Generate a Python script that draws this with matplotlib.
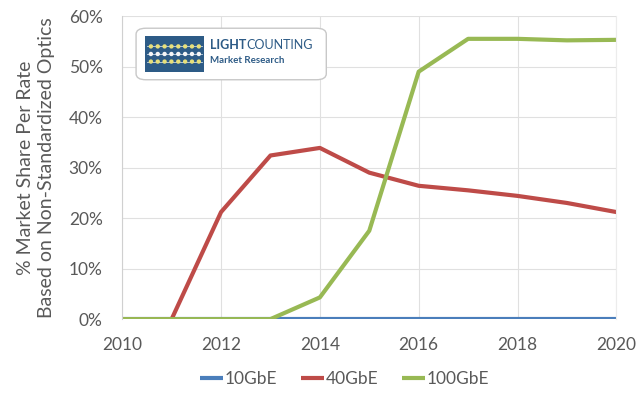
import numpy as np
import matplotlib
matplotlib.use("Agg")
import matplotlib.pyplot as plt
from matplotlib.patches import FancyBboxPatch, Rectangle

plt.rcParams['font.family'] = ['Lato', 'DejaVu Sans']

years = [2010, 2011, 2012, 2013, 2014, 2015, 2016, 2017, 2018, 2019, 2020]
ge10 = [0, 0, 0, 0, 0, 0, 0, 0, 0, 0, 0]
ge40 = [0, 0, 21.2, 32.4, 33.9, 29.0, 26.4, 25.5, 24.4, 23.0, 21.2]
ge100 = [0, 0, 0, 0, 4.3, 17.5, 49.0, 55.5, 55.5, 55.2, 55.3]

series = [("10GbE", ge10, "#4a7ebb"),
          ("40GbE", ge40, "#be4b48"),
          ("100GbE", ge100, "#98b954")]

fig = plt.figure(figsize=(6.4, 3.93), dpi=100)
ax = fig.add_axes([0.191, 0.188, 0.772, 0.771])

for name, vals, col in series:
    ax.plot(years, vals, color=col, linewidth=3.0, label=name, solid_capstyle='butt')

ax.set_xlim(2010, 2020)
ax.set_ylim(0, 60)
ax.set_xticks(range(2010, 2021, 2))
ax.set_yticks(range(0, 61, 10))
ax.set_yticklabels(['%d%%' % v for v in range(0, 61, 10)])
ax.grid(True, color='#e0e0e0', linewidth=0.8)
ax.set_axisbelow(True)
for s in ['top', 'bottom']:
    ax.spines[s].set_visible(False)
ax.spines['left'].set_color('#d0d0d0')
ax.spines['right'].set_color('#ececec')
ax.tick_params(length=0, labelsize=12.5, colors='#595959')
ax.tick_params(axis='y', pad=14)
ax.tick_params(axis='x', pad=13)

ax.set_ylabel('% Market Share Per Rate\nBased on Non-Standardized Optics',
              fontsize=14, color='#595959', labelpad=10, linespacing=1.3)

leg = ax.legend(loc='upper center', bbox_to_anchor=(0.45, -0.12), ncol=3,
                frameon=False, fontsize=12.5, handlelength=1.3, handletextpad=0.1,
                columnspacing=1.4, labelcolor='#595959')

# logo box
box = FancyBboxPatch((0.028, 0.79), 0.385, 0.17, transform=ax.transAxes,
                     boxstyle='round,pad=0,rounding_size=0.02', facecolor='white',
                     edgecolor='#c8c8c8', linewidth=1.0, zorder=5)
ax.add_patch(box)
icon = Rectangle((0.047, 0.815), 0.118, 0.12, transform=ax.transAxes,
                 facecolor='#2d5b86', edgecolor='none', zorder=6)
ax.add_patch(icon)
for r, yy in enumerate([0.90, 0.875, 0.85]):
    ax.plot([0.05, 0.162], [yy, yy], transform=ax.transAxes, color='#c9d8e6',
            linewidth=0.6, zorder=7)
    xs = np.linspace(0.058, 0.155, 8)
    ax.scatter(xs, [yy] * 8, transform=ax.transAxes, s=10,
               color=['#e8e07a', '#f6f6f6'][r % 2], zorder=8, edgecolors='none')
t1 = ax.text(0.178, 0.905, 'LIGHT', transform=ax.transAxes, fontsize=9,
             fontweight='bold', color='#2d5b86', va='center', zorder=9)
ax.annotate('COUNTING', xy=(1, 0.5), xycoords=t1, fontsize=9,
            color='#2d5b86', va='center', ha='left', zorder=9)
ax.text(0.178, 0.855, 'Market Research', transform=ax.transAxes, fontsize=7,
        fontweight='bold', color='#2d5b86', va='center', zorder=9)

fig.savefig('out.png', dpi=100)
